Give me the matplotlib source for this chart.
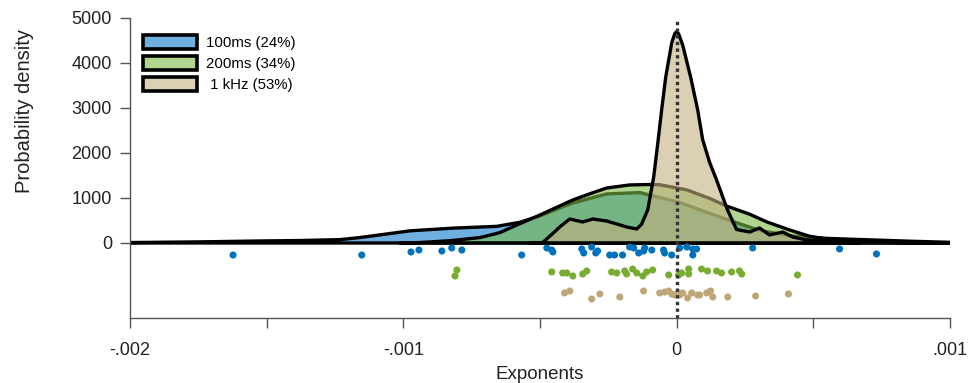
import matplotlib.pyplot as plt
from matplotlib.patches import Patch

plt.rcParams["font.family"] = ["Liberation Sans", "DejaVu Sans"]

# density curves (x = exponent, y = probability density)
x_100ms = [-0.002, -0.001744, -0.001525, -0.001378, -0.001232, -0.001160, -0.001086, -0.000976,
           -0.000819, -0.000658, -0.000574, -0.000501, -0.000380, -0.000256, -0.000135,
           0.000011, 0.000084, 0.000194, 0.000303, 0.000413, 0.000559, 0.000706,
           0.000852, 0.001]
y_100ms = [10, 25, 45, 55, 75, 120, 180, 270, 330, 370, 460, 600, 890, 1090, 1120,
           900, 740, 500, 280, 160, 100, 70, 40, 15]

x_200ms = [-0.001013, -0.000940, -0.000830, -0.000720, -0.000647, -0.000585, -0.000501,
           -0.000440, -0.000380, -0.000310, -0.000256, -0.000172, -0.000099, -0.000062,
           0.000037, 0.000121, 0.000183, 0.000267, 0.000329, 0.000413, 0.000486,
           0.000559, 0.000669, 0.000815, 0.001]
y_200ms = [0, 10, 50, 120, 230, 400, 620, 790, 956, 1110, 1222, 1290, 1300, 1295,
           1180, 990, 820, 640, 470, 290, 150, 75, 30, 10, 0]

x_1khz = [-0.000537, -0.000490, -0.000446, -0.000428, -0.000391, -0.000344, -0.000307,
          -0.000256, -0.000183, -0.000146, -0.000128, -0.000106, -0.000084, -0.000069,
          -0.000055, -0.000040, -0.000018, -0.000007, 0.0, 0.000007, 0.000022, 0.000051,
          0.000077, 0.000095, 0.000120, 0.000146, 0.000186, 0.000219, 0.000267, 0.000303,
          0.000340, 0.000388, 0.000424, 0.000475, 0.000534, 0.000669]
y_1khz = [0, 10, 250, 356, 533, 467, 533, 489, 356, 311, 420, 733, 1467, 2222,
          2956, 3689, 4450, 4650, 4700, 4650, 4400, 3689, 2956, 2300, 1800, 1400,
          733, 300, 244, 333, 178, 244, 133, 67, 44, 0]

# individual exponents (scatter below the axis), x and jitter offset
dots_100ms_x = [-0.001623, -0.001152, -0.000972, -0.000943, -0.000859, -0.000823, -0.000786,
                -0.000567, -0.000475, -0.000457, -0.000453, -0.000347, -0.000340, -0.000311,
                -0.000296, -0.000289, -0.000245, -0.000227, -0.000198, -0.000172, -0.000157,
                -0.000139, -0.000117, -0.000121, -0.000091, -0.000048, -0.000044, -0.000018,
                0.000011, 0.000037, 0.000059, 0.000073, 0.000059, 0.000278, 0.000596, 0.000731]
dots_100ms_y = [-267, -267, -200, -156, -178, -111, -156, -267, -111, -156, -200, -133,
                -222, -89, -222, -178, -267, -267, -267, -89, -111, -222, -111, -178,
                -156, -156, -222, -267, -111, -89, -133, -133, -267, -111, -133, -244]

dots_200ms_x = [-0.000804, -0.000811, -0.000457, -0.000417, -0.000402, -0.000380, -0.000344,
                -0.000329, -0.000238, -0.000219, -0.000190, -0.000183, -0.000161, -0.000146,
                -0.000124, -0.000110, -0.000088, -0.000029, 0.000007, 0.000018, 0.000044,
                0.000044, 0.000091, 0.000113, 0.000146, 0.000164, 0.000201, 0.000230,
                0.000238, 0.000442]
dots_200ms_y = [-600, -733, -644, -667, -667, -733, -689, -622, -644, -667, -622, -689,
                -578, -667, -733, -644, -600, -711, -711, -667, -578, -689, -578, -622,
                -622, -667, -644, -622, -689, -711]

dots_1khz_x = [-0.000410, -0.000391, -0.000311, -0.000281, -0.000208, -0.000121, -0.000062,
               -0.000044, -0.000029, -0.000018, -0.000007, 0.000004, 0.000011, 0.000022,
               0.000040, 0.000055, 0.000077, 0.000084, 0.000110, 0.000124, 0.000132,
               0.000187, 0.000289, 0.000409]
dots_1khz_y = [-1111, -1067, -1244, -1133, -1200, -1067, -1111, -1089, -1067, -1133,
               -1156, -1111, -1156, -1111, -1222, -1111, -1156, -1156, -1111, -1067,
               -1200, -1200, -1178, -1133]

labels = ["100ms (24%)", "200ms (34%)", " 1 kHz (53%)"]
fill_colors = [(0.06, 0.48, 0.80, 0.6), (0.48, 0.73, 0.27, 0.6), (0.77, 0.69, 0.51, 0.6)]
dot_colors = ["#0072bd", "#77ac30", "#bfa677"]

fig = plt.figure(figsize=(9.78, 3.83), dpi=100)
ax = fig.add_axes([130 / 978, 65 / 383, 820 / 978, 300 / 383])

curves = [(x_100ms, y_100ms), (x_200ms, y_200ms), (x_1khz, y_1khz)]
for (xs, ys), fc in zip(curves, fill_colors):
    ax.fill([xs[0]] + xs + [xs[-1]], [0] + ys + [0], facecolor=fc,
            edgecolor="black", linewidth=2.4, joinstyle="round", zorder=2)

ax.axvline(0, color="#333333", linestyle=(0, (1, 1)), linewidth=2.4, zorder=4)

for xs, ys, c in [(dots_100ms_x, dots_100ms_y, dot_colors[0]),
                  (dots_200ms_x, dots_200ms_y, dot_colors[1]),
                  (dots_1khz_x, dots_1khz_y, dot_colors[2])]:
    ax.scatter(xs, ys, s=26, color=c, edgecolors="none", zorder=3)

ax.set_xlim(-0.002, 0.001)
ax.set_ylim(-1667, 5000)
ax.set_yticks([0, 1000, 2000, 3000, 4000, 5000])
ax.set_yticklabels(["0", "1000", "2000", "3000", "4000", "5000"])
ax.set_xticks([-0.002, -0.0015, -0.001, -0.0005, 0, 0.0005, 0.001])
ax.set_xticklabels(["-.002", "", "-.001", "", "0", "", ".001"])
ax.tick_params(direction="out", length=7, width=1, colors="#555555",
               labelcolor="#222222", labelsize=13, pad=6)
ax.tick_params(axis="x", pad=10)
for side in ["top", "right"]:
    ax.spines[side].set_visible(False)
for side in ["left", "bottom"]:
    ax.spines[side].set_color("#555555")
    ax.spines[side].set_linewidth(1)

ax.set_xlabel("Exponents", fontsize=13.5, color="#222222", labelpad=5)
ax.set_ylabel("Probability density", fontsize=14.5, color="#222222")
ax.yaxis.set_label_coords(-0.117, 0.69)

handles = [Patch(facecolor=fc, edgecolor="black", linewidth=2.6) for fc in fill_colors]
ax.legend(handles, labels, loc="upper left", bbox_to_anchor=(0.008, 0.965), frameon=False,
          fontsize=10.8, handlelength=3.6, handleheight=1.1, labelspacing=0.38,
          handletextpad=0.6, borderaxespad=0)

fig.savefig("out.png", dpi=100)
